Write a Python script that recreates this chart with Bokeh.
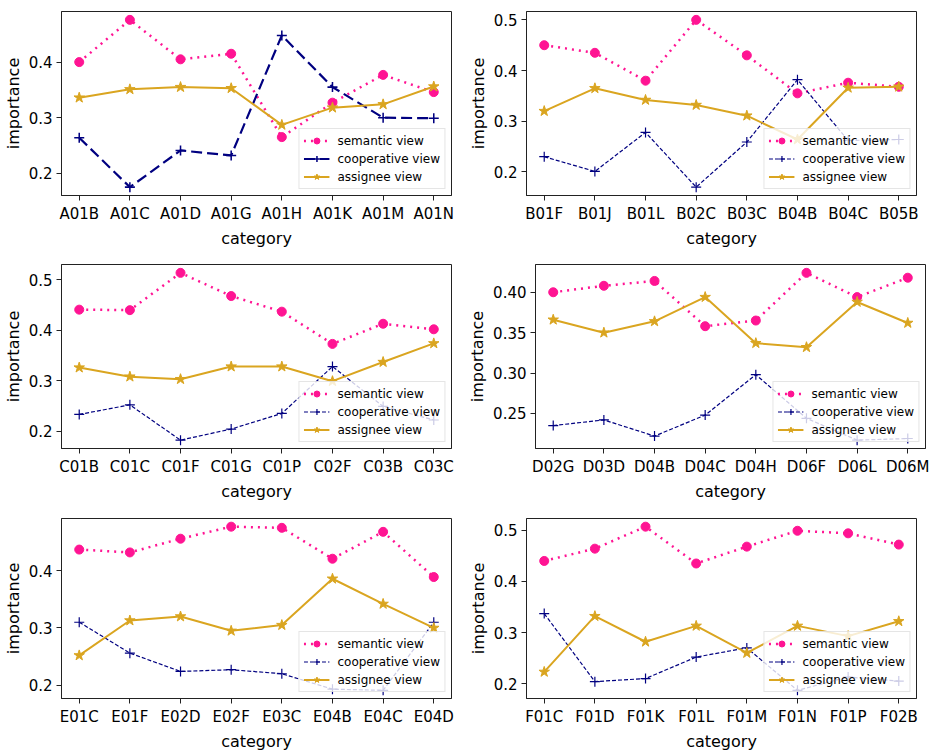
from bokeh.plotting import figure
from bokeh.layouts import column, row
from bokeh.models import DataRange1d, FixedTicker, PrintfTickFormatter
from bokeh.embed import file_html
from bokeh.resources import INLINE

# ---------------- data ----------------
cats_A = ["A01B", "A01C", "A01D", "A01G", "A01H", "A01K", "A01M", "A01N"]
sem_A = [0.400, 0.476, 0.405, 0.415, 0.265, 0.327, 0.377, 0.346]
coop_A = [0.264, 0.175, 0.241, 0.232, 0.448, 0.355, 0.300, 0.299]
asg_A = [0.336, 0.351, 0.355, 0.353, 0.287, 0.318, 0.324, 0.356]
yticks_A = [0.2, 0.3, 0.4]

cats_B = ["B01F", "B01J", "B01L", "B02C", "B03C", "B04B", "B04C", "B05B"]
sem_B = [0.450, 0.435, 0.380, 0.500, 0.430, 0.355, 0.376, 0.368]
coop_B = [0.230, 0.201, 0.278, 0.170, 0.259, 0.382, 0.262, 0.264]
asg_B = [0.320, 0.365, 0.342, 0.332, 0.311, 0.264, 0.366, 0.368]
yticks_B = [0.2, 0.3, 0.4, 0.5]

cats_C = ["C01B", "C01C", "C01F", "C01G", "C01P", "C02F", "C03B", "C03C"]
sem_C = [0.441, 0.440, 0.514, 0.468, 0.437, 0.373, 0.413, 0.402]
coop_C = [0.233, 0.252, 0.182, 0.204, 0.235, 0.328, 0.249, 0.222]
asg_C = [0.326, 0.308, 0.303, 0.328, 0.328, 0.299, 0.337, 0.374]
yticks_C = [0.2, 0.3, 0.4, 0.5]

cats_D = ["D02G", "D03D", "D04B", "D04C", "D04H", "D06F", "D06L", "D06M"]
sem_D = [0.400, 0.408, 0.414, 0.358, 0.365, 0.424, 0.394, 0.418]
coop_D = [0.235, 0.242, 0.222, 0.248, 0.298, 0.244, 0.217, 0.219]
asg_D = [0.366, 0.350, 0.364, 0.394, 0.337, 0.332, 0.388, 0.362]
yticks_D = [0.25, 0.30, 0.35, 0.40]

cats_E = ["E01C", "E01F", "E02D", "E02F", "E03C", "E04B", "E04C", "E04D"]
sem_E = [0.437, 0.432, 0.456, 0.477, 0.475, 0.421, 0.468, 0.389]
coop_E = [0.310, 0.256, 0.224, 0.227, 0.220, 0.193, 0.191, 0.310]
asg_E = [0.252, 0.313, 0.320, 0.295, 0.305, 0.386, 0.342, 0.300]
yticks_E = [0.2, 0.3, 0.4]

cats_F = ["F01C", "F01D", "F01K", "F01L", "F01M", "F01N", "F01P", "F02B"]
sem_F = [0.440, 0.464, 0.507, 0.435, 0.468, 0.499, 0.494, 0.472]
coop_F = [0.337, 0.204, 0.210, 0.252, 0.270, 0.187, 0.213, 0.205]
asg_F = [0.223, 0.332, 0.282, 0.313, 0.260, 0.313, 0.293, 0.322]
yticks_F = [0.2, 0.3, 0.4, 0.5]

series_names = ["semantic view", "cooperative view", "assignee view"]

# ---------------- styles ----------------
FONT = "DejaVu Sans"
C_SEM = "#FF1493"
C_COOP = "#000080"
C_ASG = "#DAA520"


def make_panel(cats, sem, coop, asg, yticks, fmt, width, height,
               bl, br, bt, bb, coop_w, coop_dash):
    xs = list(range(len(cats)))
    p = figure(width=width, height=height, output_backend="svg",
               toolbar_location=None,
               x_range=DataRange1d(range_padding=0.1),
               y_range=DataRange1d(range_padding=0.1),
               min_border_left=bl, min_border_right=br,
               min_border_top=bt, min_border_bottom=bb)
    p.xgrid.visible = False
    p.ygrid.visible = False
    p.outline_line_color = "#222222"
    p.outline_line_width = 1
    p.background_fill_color = "white"

    # semantic
    p.line(xs, sem, line_color=C_SEM, line_width=2.5, line_dash="2 5",
           legend_label=series_names[0])
    p.scatter(xs, sem, marker="circle", size=9, fill_color=C_SEM,
              line_color=C_SEM, legend_label=series_names[0])
    # cooperative
    p.line(xs, coop, line_color=C_COOP, line_width=coop_w, line_dash=coop_dash,
           legend_label=series_names[1])
    p.scatter(xs, coop, marker="cross", size=10, line_color=C_COOP,
              line_width=max(1.2, coop_w * 0.7), legend_label=series_names[1])
    # assignee
    p.line(xs, asg, line_color=C_ASG, line_width=2,
           legend_label=series_names[2])
    p.scatter(xs, asg, marker="star", size=11, fill_color=C_ASG,
              line_color=C_ASG, legend_label=series_names[2])

    p.xaxis.ticker = FixedTicker(ticks=xs)
    p.xaxis.major_label_overrides = {i: c for i, c in enumerate(cats)}
    p.yaxis.ticker = FixedTicker(ticks=yticks)
    p.yaxis.formatter = PrintfTickFormatter(format=fmt)
    p.xaxis.axis_label = "category"
    p.yaxis.axis_label = "importance"
    for ax in (p.xaxis, p.yaxis):
        ax.axis_label_text_font = FONT
        ax.axis_label_text_font_size = "16px"
        ax.axis_label_text_font_style = "normal"
        ax.axis_label_text_color = "black"
        ax.major_label_text_font = FONT
        ax.major_label_text_font_size = "15px"
        ax.major_label_text_color = "black"
        ax.major_tick_out = 5
        ax.major_tick_in = 0
        ax.minor_tick_line_color = None
        ax.major_tick_line_color = "#222222"
        ax.axis_line_color = "#222222"
        ax.major_label_standoff = 4
        ax.axis_label_standoff = 3

    lg = p.legend[0]
    lg.location = "bottom_right"
    lg.margin = 6
    lg.padding = 4
    lg.spacing = 3
    lg.label_height = 15
    lg.glyph_height = 15
    lg.glyph_width = 26
    lg.label_standoff = 8
    lg.label_text_font = FONT
    lg.label_text_font_size = "12px"
    lg.label_text_color = "black"
    lg.border_line_color = "#cccccc"
    lg.border_line_width = 1
    lg.background_fill_color = "white"
    lg.background_fill_alpha = 0.8
    return p


LW, RW = 465, 466
p1 = make_panel(cats_A, sem_A, coop_A, asg_A, yticks_A, "%.1f", LW, 250,
                58, 14, 11, 49, 2.2, "11 5")
p2 = make_panel(cats_B, sem_B, coop_B, asg_B, yticks_B, "%.1f", RW, 250,
                58, 15, 11, 49, 1.2, "4 2")
p3 = make_panel(cats_C, sem_C, coop_C, asg_C, yticks_C, "%.1f", LW, 253,
                58, 14, 14, 48, 1.2, "4 2")
p4 = make_panel(cats_D, sem_D, coop_D, asg_D, yticks_D, "%.2f", RW, 253,
                68, 6, 14, 48, 1.2, "4 2")
p5 = make_panel(cats_E, sem_E, coop_E, asg_E, yticks_E, "%.1f", LW, 250,
                58, 14, 15, 46, 1.2, "4 2")
p6 = make_panel(cats_F, sem_F, coop_F, asg_F, yticks_F, "%.1f", RW, 250,
                58, 15, 15, 46, 1.2, "4 2")

layout = column(row(p1, p2), row(p3, p4), row(p5, p6))

open("out.html", "w").write(file_html(layout, INLINE))
